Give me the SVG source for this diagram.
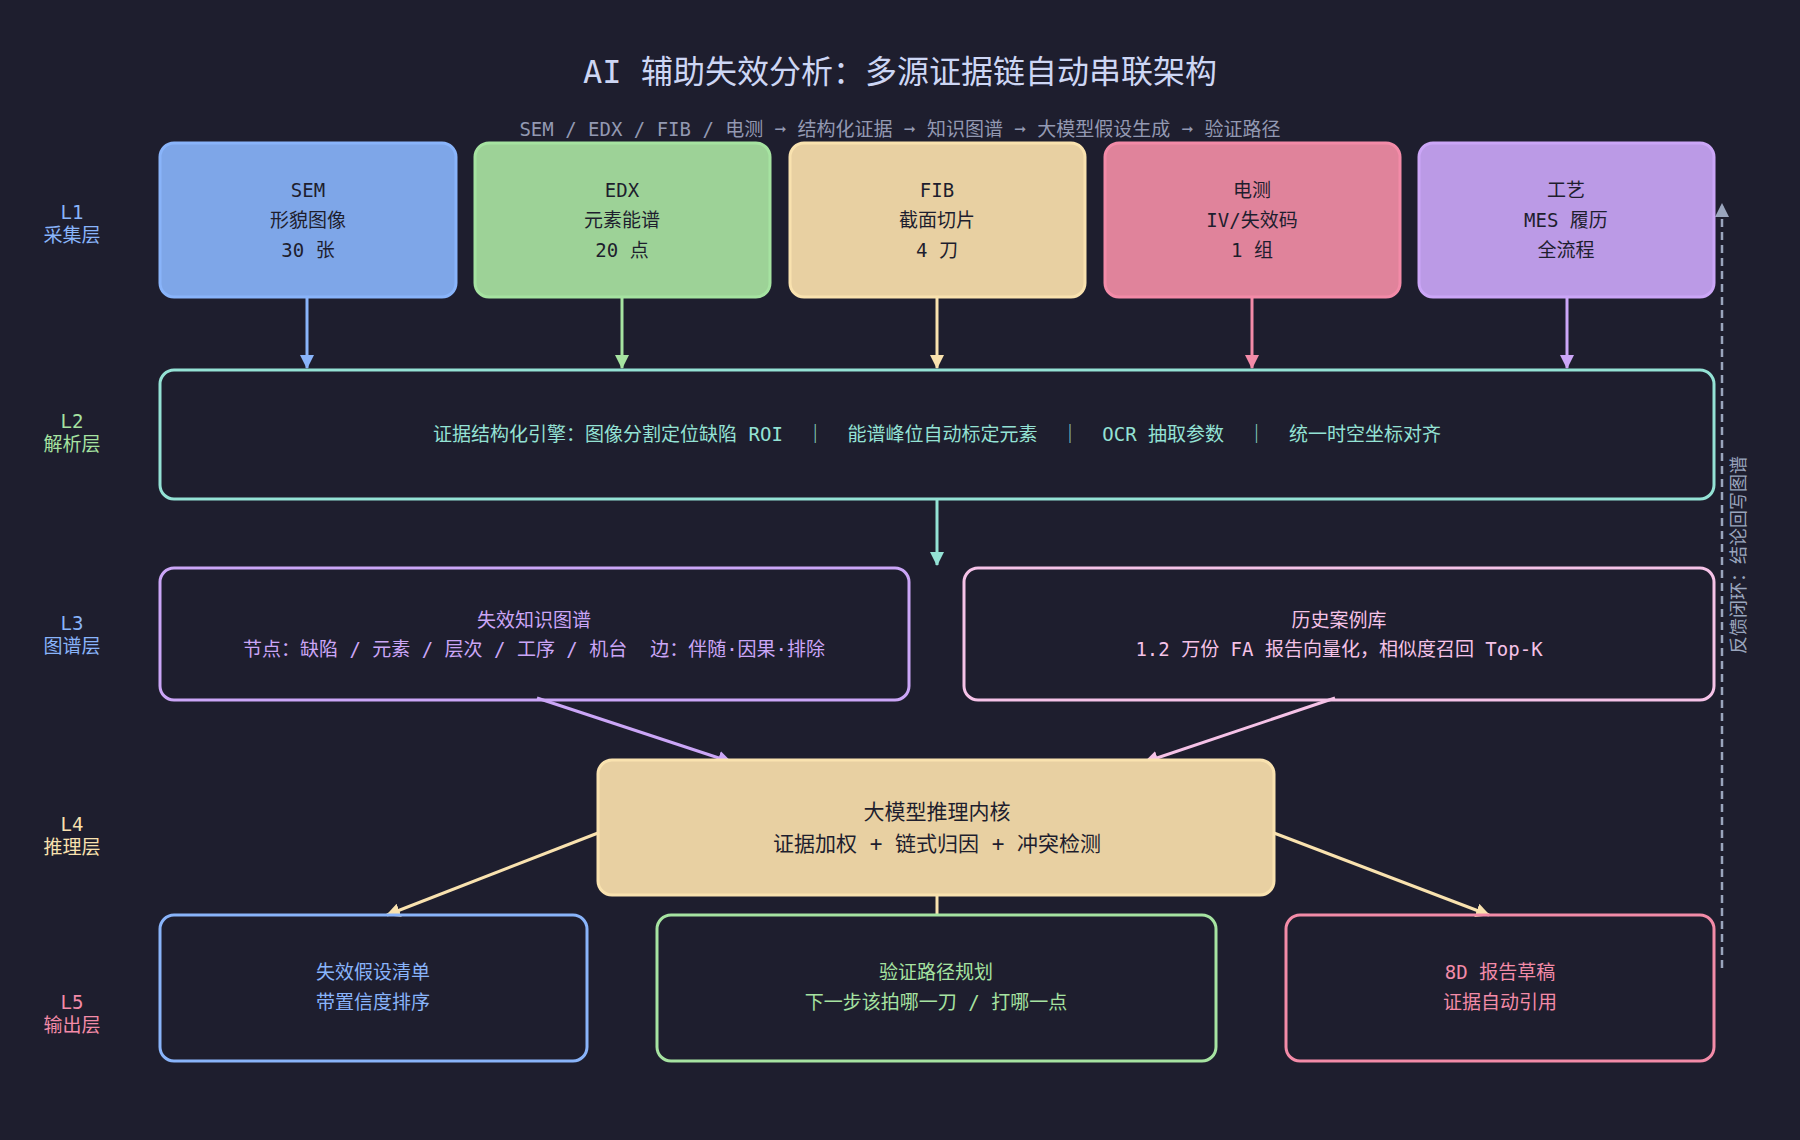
<svg xmlns="http://www.w3.org/2000/svg" width="1800" height="1140" viewBox="0 0 1800 1140">
<defs>
<style>
text{font-family:"DejaVu Sans Mono","Noto Sans CJK SC",monospace;text-anchor:middle}
.t{font-size:19px}
.dk{fill:#1e1e2e}
.lay{font-size:19px}
</style>
<marker id="ab" markerWidth="10" markerHeight="10" refX="9" refY="5" orient="auto" markerUnits="userSpaceOnUse" viewBox="0 0 10 10"><path d="M0,0L10,5L0,10z" fill="#89b4fa"/></marker>
<marker id="ag" markerWidth="14" markerHeight="14" refX="13" refY="7" orient="auto" markerUnits="userSpaceOnUse"><path d="M0,0L14,7L0,14z" fill="#a6e3a1"/></marker>
<marker id="ay" markerWidth="14" markerHeight="14" refX="13" refY="7" orient="auto" markerUnits="userSpaceOnUse"><path d="M0,0L14,7L0,14z" fill="#f9e2af"/></marker>
<marker id="ar" markerWidth="14" markerHeight="14" refX="13" refY="7" orient="auto" markerUnits="userSpaceOnUse"><path d="M0,0L14,7L0,14z" fill="#f38ba8"/></marker>
<marker id="ap" markerWidth="14" markerHeight="14" refX="13" refY="7" orient="auto" markerUnits="userSpaceOnUse"><path d="M0,0L14,7L0,14z" fill="#cba6f7"/></marker>
<marker id="at" markerWidth="14" markerHeight="14" refX="13" refY="7" orient="auto" markerUnits="userSpaceOnUse"><path d="M0,0L14,7L0,14z" fill="#94e2d5"/></marker>
<marker id="apk" markerWidth="14" markerHeight="14" refX="13" refY="7" orient="auto" markerUnits="userSpaceOnUse"><path d="M0,0L14,7L0,14z" fill="#f5c2e7"/></marker>
<marker id="agr" markerWidth="14" markerHeight="14" refX="13" refY="7" orient="auto" markerUnits="userSpaceOnUse"><path d="M0,0L14,7L0,14z" fill="#9aa5bd"/></marker>
<marker id="abl" markerWidth="14" markerHeight="14" refX="13" refY="7" orient="auto" markerUnits="userSpaceOnUse"><path d="M0,0L14,7L0,14z" fill="#89b4fa"/></marker>
</defs>
<rect width="1800" height="1140" fill="#1e1e2e"/>
<text x="900" y="83" font-size="32" fill="#cdd6f4">AI 辅助失效分析：多源证据链自动串联架构</text>
<text x="900" y="136" font-size="19" fill="#9399b2">SEM / EDX / FIB / 电测 ➞ 结构化证据 ➞ 知识图谱 ➞ 大模型假设生成 ➞ 验证路径</text>

<g id="layers" class="lay">
<text x="72" y="219" fill="#89b4fa">L1</text><text x="72" y="242" fill="#89b4fa">采集层</text>
<text x="72" y="428" fill="#a6e3a1">L2</text><text x="72" y="451" fill="#a6e3a1">解析层</text>
<text x="72" y="630" fill="#89b4fa">L3</text><text x="72" y="653" fill="#89b4fa">图谱层</text>
<text x="72" y="831" fill="#f9e2af">L4</text><text x="72" y="854" fill="#f9e2af">推理层</text>
<text x="72" y="1009" fill="#f38ba8">L5</text><text x="72" y="1032" fill="#f38ba8">输出层</text>
</g>

<g id="connectors" stroke-width="3" fill="none">
<line x1="307" y1="297" x2="307" y2="368" stroke="#89b4fa" marker-end="url(#abl)"/>
<line x1="622" y1="297" x2="622" y2="368" stroke="#a6e3a1" marker-end="url(#ag)"/>
<line x1="937" y1="297" x2="937" y2="368" stroke="#f9e2af" marker-end="url(#ay)"/>
<line x1="1252" y1="297" x2="1252" y2="368" stroke="#f38ba8" marker-end="url(#ar)"/>
<line x1="1567" y1="297" x2="1567" y2="368" stroke="#cba6f7" marker-end="url(#ap)"/>
<line x1="937" y1="499" x2="937" y2="565" stroke="#94e2d5" marker-end="url(#at)"/>
<line x1="537" y1="698" x2="731" y2="762" stroke="#cba6f7" marker-end="url(#ap)"/>
<line x1="1335" y1="698" x2="1145" y2="762" stroke="#f5c2e7" marker-end="url(#apk)"/>
<line x1="598" y1="833" x2="387" y2="915" stroke="#f9e2af" marker-end="url(#ay)"/>
<line x1="1274" y1="833" x2="1489" y2="915" stroke="#f9e2af" marker-end="url(#ay)"/>
<line x1="937" y1="895" x2="937" y2="915" stroke="#f9e2af"/>
<line x1="1722" y1="968" x2="1722" y2="204" stroke="#9aa5bd" stroke-width="2.5" stroke-dasharray="8,5" marker-end="url(#agr)"/>
</g>
<text transform="translate(1745,555) rotate(-90)" font-size="18" fill="#9aa5bd">反馈闭环：结论回写图谱</text>

<g id="sem"><rect x="160" y="143" width="296" height="154" rx="14" fill="#7ea6e8" stroke="#89b4fa" stroke-width="3"/>
<text class="t dk" x="308" y="197">SEM</text><text class="t dk" x="308" y="227">形貌图像</text><text class="t dk" x="308" y="257">30 张</text></g>
<g id="edx"><rect x="475" y="143" width="295" height="154" rx="14" fill="#9dd297" stroke="#a6e3a1" stroke-width="3"/>
<text class="t dk" x="622" y="197">EDX</text><text class="t dk" x="622" y="227">元素能谱</text><text class="t dk" x="622" y="257">20 点</text></g>
<g id="fib"><rect x="790" y="143" width="295" height="154" rx="14" fill="#e8d0a2" stroke="#f9e2af" stroke-width="3"/>
<text class="t dk" x="937" y="197">FIB</text><text class="t dk" x="937" y="227">截面切片</text><text class="t dk" x="937" y="257">4 刀</text></g>
<g id="elec"><rect x="1105" y="143" width="295" height="154" rx="14" fill="#e0839b" stroke="#f38ba8" stroke-width="3"/>
<text class="t dk" x="1252" y="197">电测</text><text class="t dk" x="1252" y="227">IV/失效码</text><text class="t dk" x="1252" y="257">1 组</text></g>
<g id="proc"><rect x="1419" y="143" width="295" height="154" rx="14" fill="#bb9ae6" stroke="#cba6f7" stroke-width="3"/>
<text class="t dk" x="1566" y="197">工艺</text><text class="t dk" x="1566" y="227">MES 履历</text><text class="t dk" x="1566" y="257">全流程</text></g>

<g id="parse"><rect x="160" y="370" width="1554" height="129" rx="14" fill="none" stroke="#94e2d5" stroke-width="3"/>
<text class="t" x="937" y="441" fill="#94e2d5" xml:space="preserve">证据结构化引擎：图像分割定位缺陷 ROI  ｜  能谱峰位自动标定元素  ｜  OCR 抽取参数  ｜  统一时空坐标对齐</text></g>

<g id="kg"><rect x="160" y="568" width="749" height="132" rx="14" fill="none" stroke="#cba6f7" stroke-width="3"/>
<text class="t" x="534" y="627" fill="#cba6f7">失效知识图谱</text><text class="t" x="534" y="656" fill="#cba6f7" xml:space="preserve">节点：缺陷 / 元素 / 层次 / 工序 / 机台  边：伴随·因果·排除</text></g>
<g id="cases"><rect x="964" y="568" width="750" height="132" rx="14" fill="none" stroke="#f5c2e7" stroke-width="3"/>
<text class="t" x="1339" y="627" fill="#f5c2e7">历史案例库</text><text class="t" x="1339" y="656" fill="#f5c2e7" font-size="18">1.2 万份 FA 报告向量化，相似度召回 Top-K</text></g>

<g id="llm"><rect x="598" y="760" width="676" height="135" rx="14" fill="#e8d0a2" stroke="#f9e2af" stroke-width="3"/>
<text x="937" y="819" font-size="21" class="dk">大模型推理内核</text><text x="937" y="851" font-size="21" class="dk">证据加权 + 链式归因 + 冲突检测</text></g>

<g id="hyp"><rect x="160" y="915" width="427" height="146" rx="14" fill="none" stroke="#89b4fa" stroke-width="3"/>
<text class="t" x="373" y="979" fill="#89b4fa">失效假设清单</text><text class="t" x="373" y="1009" fill="#89b4fa">带置信度排序</text></g>
<g id="verify"><rect x="657" y="915" width="559" height="146" rx="14" fill="none" stroke="#a6e3a1" stroke-width="3"/>
<text class="t" x="936" y="979" fill="#a6e3a1">验证路径规划</text><text class="t" x="936" y="1009" fill="#a6e3a1">下一步该拍哪一刀 / 打哪一点</text></g>
<g id="report"><rect x="1286" y="915" width="428" height="146" rx="14" fill="none" stroke="#f38ba8" stroke-width="3"/>
<text class="t" x="1500" y="979" fill="#f38ba8">8D 报告草稿</text><text class="t" x="1500" y="1009" fill="#f38ba8">证据自动引用</text></g>
</svg>
